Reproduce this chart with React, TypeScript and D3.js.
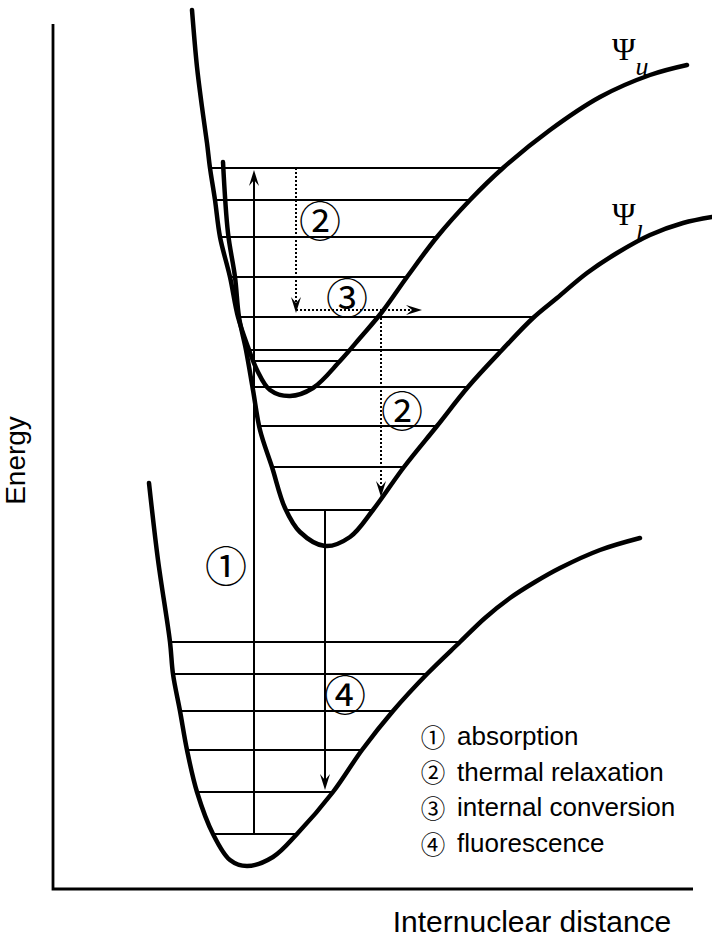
import React from "react";
import * as d3 from "d3";

type Pt = [number, number];

const WIDTH = 712;
const HEIGHT = 938;

// Potential energy curves as [internuclear distance, energy] samples
const groundCurve: Pt[] = [
  [0.96, 4.06], [1.05, 3.29], [1.17, 2.47], [1.2, 2.15], [1.27, 1.78], [1.34, 1.39],
  [1.44, 0.97], [1.6, 0.55], [1.77, 0.29], [1.94, 0.23], [2.2, 0.32], [2.44, 0.55],
  [2.8, 0.97], [3.09, 1.39], [3.4, 1.78], [3.74, 2.15], [4.07, 2.47], [4.32, 2.71],
  [4.57, 2.91], [4.82, 3.07], [5.07, 3.21], [5.47, 3.39], [5.87, 3.51],
];

const lowerCurve: Pt[] = [
  [1.7, 7.27], [1.75, 6.56], [1.82, 6.12], [1.86, 5.72], [1.93, 5.39], [2.0, 4.99],
  [2.07, 4.59], [2.19, 4.22], [2.32, 3.81], [2.47, 3.57], [2.72, 3.43], [2.97, 3.52],
  [3.2, 3.79], [3.51, 4.22], [3.84, 4.63], [4.15, 5.02], [4.49, 5.39], [4.8, 5.71],
  [5.04, 5.91], [5.34, 6.16], [5.64, 6.36], [5.97, 6.54], [6.3, 6.66], [6.59, 6.72],
];

const upperCurve: Pt[] = [
  [1.39, 8.79], [1.44, 8.22], [1.49, 7.82], [1.54, 7.46], [1.57, 7.21], [1.62, 6.89],
  [1.67, 6.52], [1.77, 6.12], [1.85, 5.72], [1.95, 5.42], [2.04, 5.19], [2.17, 4.99],
  [2.37, 4.93], [2.6, 5.01], [2.87, 5.28], [3.07, 5.51], [3.29, 5.77], [3.54, 6.12],
  [3.84, 6.52], [4.17, 6.89], [4.5, 7.21], [4.97, 7.59], [5.47, 7.92], [5.97, 8.14],
  [6.34, 8.24],
];

// Vibrational levels (energies)
const groundLevels = [2.47, 2.15, 1.78, 1.39, 0.97, 0.55];
const lowerLevels = [5.72, 5.39, 5.02, 4.63, 4.22, 3.79];
const upperLevels = [7.21, 6.89, 6.52, 6.12, 5.72, 5.28];

// Transitions: distance where drawn, start energy, end energy
const absorption = { x: 2.01, from: 0.55, to: 7.19 };
const fluorescence = { x: 2.72, from: 3.79, to: 0.99 };
const relaxUpper = { x: 2.43, from: 7.21, to: 5.76 };
const conversion = { e: 5.79, from: 2.43, to: 3.69 };
const relaxLower = { x: 3.28, from: 5.79, to: 3.92 };

// Circled markers placed beside the transitions: [symbol, distance, energy]
const markers: [string, number, number][] = [
  ["②", 2.67, 6.71],
  ["③", 2.94, 5.94],
  ["②", 3.49, 4.81],
  ["①", 1.73, 3.26],
  ["④", 2.92, 1.97],
];

const legendSymbols = ["①", "②", "③", "④"];
const legendLabels = ["absorption", "thermal relaxation", "internal conversion", "fluorescence"];

const xLabel = "Internuclear distance";
const yLabel = "Energy";

const x = d3.scaleLinear().domain([0, 6.4]).range([53, 693]);
const y = d3.scaleLinear().domain([0, 8.65]).range([889, 24]);

const curveLine = d3
  .line<Pt>()
  .x((d) => x(d[0]))
  .y((d) => y(d[1]))
  .curve(d3.curveCatmullRom.alpha(0.5));

// Where a horizontal energy line meets the left or right wall of a well
function wallAt(curve: Pt[], e: number, side: "left" | "right"): number {
  const iMin = d3.minIndex(curve, (d) => d[1]);
  const seg = side === "left" ? curve.slice(0, iMin + 1) : curve.slice(iMin);
  for (let i = 0; i < seg.length - 1; i++) {
    const [x0, y0] = seg[i];
    const [x1, y1] = seg[i + 1];
    if ((y0 - e) * (y1 - e) <= 0 && y0 !== y1) {
      const t = (e - y0) / (y1 - y0);
      return x0 + t * (x1 - x0);
    }
  }
  return side === "left" ? seg[0][0] : seg[seg.length - 1][0];
}

const SANS = "'Liberation Sans', Arial, Helvetica, sans-serif";
const CIRCLED = "'Noto Sans CJK JP', 'Noto Sans CJK SC', sans-serif";
const SERIF = "'Liberation Serif', 'Times New Roman', serif";

function Arrow({
  x1, y1, x2, y2, dotted = false,
}: { x1: number; y1: number; x2: number; y2: number; dotted?: boolean }) {
  const dx = x2 - x1;
  const dy = y2 - y1;
  const len = Math.hypot(dx, dy);
  const ux = dx / len;
  const uy = dy / len;
  const L = 16;
  const hw = 5;
  const notch = L * 0.62;
  const bx = x2 - ux * L;
  const by = y2 - uy * L;
  const nx = -uy;
  const ny = ux;
  const head = `M${x2},${y2}L${bx + nx * hw},${by + ny * hw}L${x2 - ux * notch},${y2 - uy * notch}L${bx - nx * hw},${by - ny * hw}Z`;
  return (
    <g>
      <line
        x1={x1}
        y1={y1}
        x2={x2 - ux * notch}
        y2={y2 - uy * notch}
        stroke="#000"
        strokeWidth={2}
        strokeDasharray={dotted ? "2,2" : undefined}
      />
      <path d={head} fill="#000" />
    </g>
  );
}

function Levels({ curve, levels }: { curve: Pt[]; levels: number[] }) {
  return (
    <g>
      {levels.map((e, i) => (
        <line
          key={i}
          x1={x(wallAt(curve, e, "left"))}
          x2={x(wallAt(curve, e, "right"))}
          y1={y(e)}
          y2={y(e)}
          stroke="#000"
          strokeWidth={2}
        />
      ))}
    </g>
  );
}

export default function App() {
  const [x0, x1] = x.range();
  const [y0, y1] = y.range();
  return (
    <svg
      width={WIDTH}
      height={HEIGHT}
      viewBox={`0 0 ${WIDTH} ${HEIGHT}`}
      style={{ position: "absolute", left: 0, top: 0, display: "block", background: "#fff" }}
    >
      <rect width={WIDTH} height={HEIGHT} fill="#fff" />

      {/* axes */}
      <path d={`M${x0},${y1}V${y0}H${x1}`} fill="none" stroke="#000" strokeWidth={2.8} />
      <text
        transform={`translate(25,${(y0 + y1) / 2 + 4}) rotate(-90)`}
        textAnchor="middle"
        fontFamily={SANS}
        fontSize={28}
      >
        {yLabel}
      </text>
      <text x={532} y={932} textAnchor="middle" fontFamily={SANS} fontSize={30}>
        {xLabel}
      </text>

      {/* vibrational levels */}
      <Levels curve={groundCurve} levels={groundLevels} />
      <Levels curve={lowerCurve} levels={lowerLevels} />
      <Levels curve={upperCurve} levels={upperLevels} />

      {/* potential curves */}
      {[groundCurve, lowerCurve, upperCurve].map((c, i) => (
        <path
          key={i}
          d={curveLine(c) ?? ""}
          fill="none"
          stroke="#000"
          strokeWidth={4.5}
          strokeLinecap="round"
        />
      ))}

      {/* transitions */}
      <Arrow x1={x(absorption.x)} y1={y(absorption.from)} x2={x(absorption.x)} y2={y(absorption.to)} />
      <Arrow x1={x(fluorescence.x)} y1={y(fluorescence.from)} x2={x(fluorescence.x)} y2={y(fluorescence.to)} />
      <Arrow dotted x1={x(relaxUpper.x)} y1={y(relaxUpper.from)} x2={x(relaxUpper.x)} y2={y(relaxUpper.to)} />
      <Arrow dotted x1={x(conversion.from)} y1={y(conversion.e)} x2={x(conversion.to)} y2={y(conversion.e)} />
      <Arrow dotted x1={x(relaxLower.x)} y1={y(relaxLower.from)} x2={x(relaxLower.x)} y2={y(relaxLower.to)} />

      {/* circled markers */}
      {markers.map(([s, mx, me], i) => (
        <text
          key={i}
          x={x(mx)}
          y={y(me)}
          textAnchor="middle"
          dominantBaseline="central"
          fontFamily={CIRCLED}
          fontSize={42}
        >
          {s}
        </text>
      ))}

      {/* state labels */}
      <text x={612} y={60} fontFamily={SERIF} fontSize={32}>
        Ψ<tspan fontStyle="italic" fontSize={26} dy={15}>u</tspan>
      </text>
      <text x={612} y={225} fontFamily={SERIF} fontSize={32}>
        Ψ<tspan fontStyle="italic" fontSize={26} dy={17}>l</tspan>
      </text>

      {/* legend */}
      {legendLabels.map((label, i) => (
        <g key={i} transform={`translate(423,${745 + i * 35.7})`}>
          <text x={10} y={-9} textAnchor="middle" dominantBaseline="central" fontFamily={CIRCLED} fontSize={24.5}>
            {legendSymbols[i]}
          </text>
          <text x={34} y={0} fontFamily={SANS} fontSize={26}>
            {label}
          </text>
        </g>
      ))}
    </svg>
  );
}
